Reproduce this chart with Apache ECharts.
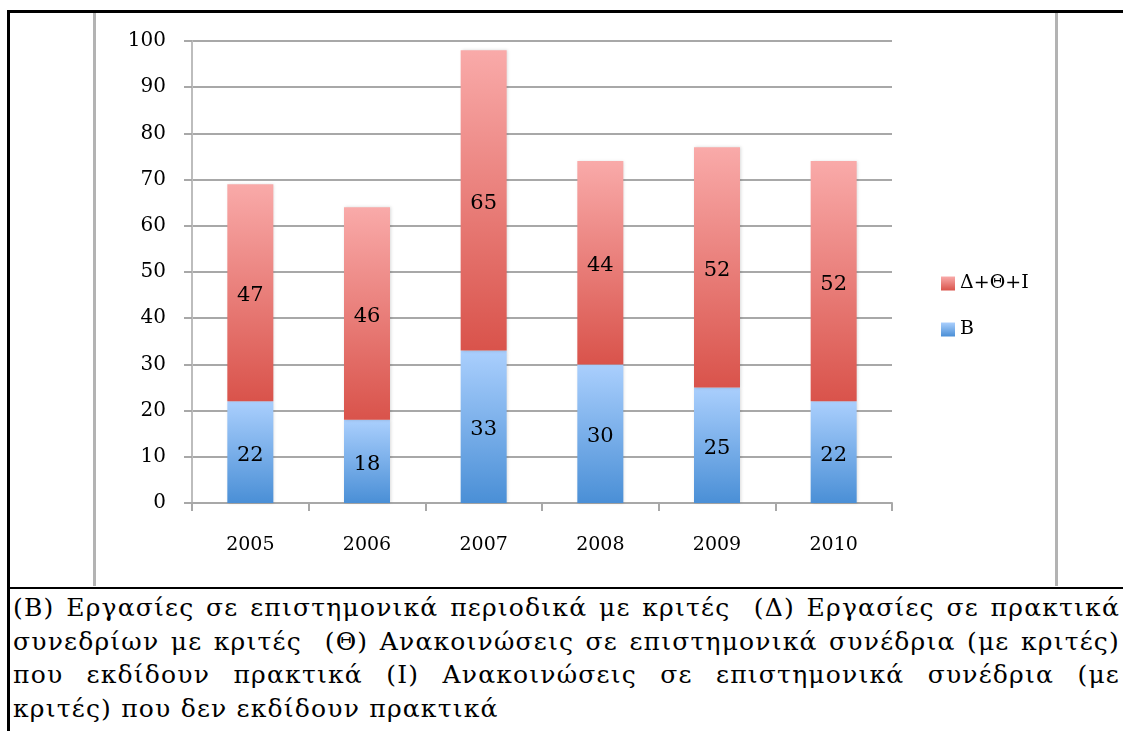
<!DOCTYPE html>
<html>
<head>
<meta charset="utf-8">
<script src="https://cdn.jsdelivr.net/npm/echarts@6/dist/echarts.min.js"></script>
<style>
  html, body { margin: 0; padding: 0; background: #fff; }
  body { width: 1123px; height: 731px; position: relative; overflow: hidden; }
  .frame {
    position: absolute; left: 7px; top: 10px; width: 1130px; height: 740px;
    border-left: 3px solid #000; border-top: 3px solid #000;
  }
  .divider { position: absolute; left: 7px; top: 587px; width: 1130px; height: 2px; background: #000; }
  .chart-box {
    position: absolute; left: 93px; top: 13px; width: 959px; height: 573px;
    border-left: 3px solid #b3b3b3; border-right: 3px solid #b3b3b3;
  }
  #chart { width: 959px; height: 573px; }
  .caption {
    position: absolute; left: 13px; top: 591px; width: 1107px;
    font-family: "DejaVu Serif", serif; font-size: 25px; letter-spacing: 1.2px;
    line-height: 33.6px; color: #000;
  }
  .caption div { text-align: justify; text-align-last: justify; white-space: nowrap; }
  .caption div.last { text-align-last: left; }
</style>
</head>
<body>
<div class="frame"></div>
<div class="chart-box"><div id="chart"></div></div>
<div class="divider"></div>
<div class="caption">
  <div>(Β) Εργασίες σε επιστημονικά περιοδικά με κριτές&nbsp; (Δ) Εργασίες σε πρακτικά</div>
  <div>συνεδρίων με κριτές&nbsp; (Θ) Ανακοινώσεις σε επιστημονικά συνέδρια (με κριτές)</div>
  <div>που εκδίδουν πρακτικά (Ι) Ανακοινώσεις σε επιστημονικά συνέδρια (με</div>
  <div class="last">κριτές) που δεν εκδίδουν πρακτικά</div>
</div>
<script>
const years = ['2005', '2006', '2007', '2008', '2009', '2010'];
const valuesB = [22, 18, 33, 30, 25, 22];
const valuesDTI = [47, 46, 65, 44, 52, 52];

const serif = '"DejaVu Serif", serif';

const redFill = new echarts.graphic.LinearGradient(0, 0, 0, 1, [
  { offset: 0, color: '#f9aaa9' },
  { offset: 1, color: '#d9534b' }
]);
const blueFill = new echarts.graphic.LinearGradient(0, 0, 0, 1, [
  { offset: 0, color: '#aacffd' },
  { offset: 1, color: '#4a8fd6' }
]);

const chart = echarts.init(document.getElementById('chart'));

chart.setOption({
  animation: false,
  backgroundColor: '#fff',
  grid: { left: 96, top: 28, width: 700, height: 462 },
  legend: {
    orient: 'vertical',
    left: 840,
    top: 256,
    itemWidth: 14,
    itemHeight: 14,
    itemGap: 27,
    icon: 'rect',
    textStyle: { fontFamily: serif, fontSize: 19, color: '#000' },
    data: ['Δ+Θ+Ι', 'Β']
  },
  xAxis: {
    type: 'category',
    data: years,
    axisLine: { lineStyle: { color: '#a8a8a8', width: 2 } },
    axisTick: { show: true, length: 8, lineStyle: { color: '#a8a8a8', width: 2 } },
    axisLabel: { margin: 33, fontFamily: serif, fontSize: 19, color: '#000' }
  },
  yAxis: {
    type: 'value',
    min: 0,
    max: 100,
    interval: 10,
    axisLine: { show: true, lineStyle: { color: '#bdbdbd', width: 2 } },
    axisTick: { show: true, length: 8, lineStyle: { color: '#a8a8a8', width: 2 } },
    splitLine: { lineStyle: { color: '#a8a8a8', width: 2 } },
    axisLabel: { margin: 26, fontFamily: serif, fontSize: 20, color: '#000' }
  },
  series: [
    {
      name: 'Β',
      type: 'bar',
      stack: 'total',
      barWidth: 46,
      data: valuesB,
      itemStyle: { color: blueFill, shadowColor: 'rgba(0,0,0,0.15)', shadowBlur: 3, shadowOffsetX: 1 },
      label: { show: true, position: 'inside', fontFamily: serif, fontSize: 21, color: '#000', offset: [0, 3] }
    },
    {
      name: 'Δ+Θ+Ι',
      type: 'bar',
      stack: 'total',
      barWidth: 46,
      data: valuesDTI,
      itemStyle: { color: redFill, shadowColor: 'rgba(0,0,0,0.15)', shadowBlur: 3, shadowOffsetX: 1 },
      label: { show: true, position: 'inside', fontFamily: serif, fontSize: 21, color: '#000', offset: [0, 3] }
    }
  ]
});
</script>
</body>
</html>
